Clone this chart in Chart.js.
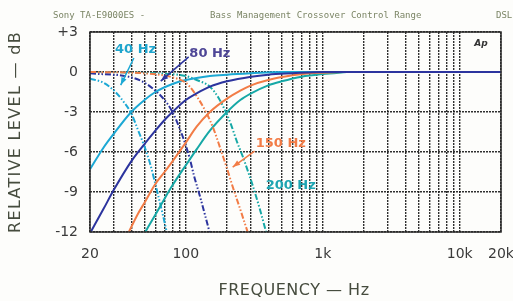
<!DOCTYPE html>
<html>
<head>
<meta charset="utf-8">
<script src="https://cdn.jsdelivr.net/npm/chart.js@4.4.1/dist/chart.umd.min.js"></script>
<style>
  html, body { margin: 0; padding: 0; background: #fdfdfb; }
</style>
</head>
<body>
<canvas id="crossover" width="513" height="301"></canvas>
<script>
// grid and tick values
const gridFreqs = [20, 30, 40, 50, 60, 70, 80, 90, 100, 200, 300, 400, 500, 600, 700, 800, 900,
  1000, 2000, 3000, 4000, 5000, 6000, 7000, 8000, 9000, 10000, 20000];
const freqLabels = { 20: "20", 100: "100", 1000: "1k", 10000: "10k", 20000: "20k" };
const levelTicks = [3, 0, -3, -6, -9, -12];

// 40 Hz
const hp40F = [20, 25, 30, 40, 50, 60, 80, 100, 150, 200, 300, 500, 1000];
const hp40L = [-7.3, -5.7, -4.6, -3.0, -2.1, -1.5, -0.9, -0.6, -0.3, -0.2, -0.1, 0, 0];
const lp40F = [20, 25, 30, 35, 40, 45, 50, 55, 62, 68, 73];
const lp40L = [-0.5, -0.8, -1.4, -2.2, -3.1, -4.4, -5.6, -6.9, -9.0, -10.7, -12.1];

// 80 Hz
const hp80F = [20, 25, 30, 40, 50, 60, 70, 80, 100, 120, 150, 200, 300, 400, 600, 1000, 2000, 20000];
const hp80L = [-12.1, -10.3, -8.8, -6.7, -5.4, -4.4, -3.6, -3.0, -2.1, -1.6, -1.1, -0.7, -0.35, -0.2, -0.1, 0, 0, 0];
const lp80F = [20, 40, 50, 60, 70, 80, 90, 100, 107, 115, 126, 138, 150];
const lp80L = [-0.1, -0.4, -0.8, -1.4, -2.1, -3.0, -4.2, -5.5, -6.5, -7.8, -9.2, -10.7, -12.1];

// 150 Hz
const hp150F = [38, 45, 50, 60, 70, 80, 100, 120, 150, 200, 250, 300, 400, 600, 800, 1000, 1400];
const hp150L = [-12.1, -10.6, -9.8, -8.4, -7.5, -6.7, -5.3, -4.1, -3.0, -2.0, -1.4, -1.0, -0.6, -0.25, -0.1, -0.05, 0];
const lp150F = [20, 50, 80, 100, 107, 120, 142, 160, 177, 198, 220, 248, 285];
const lp150L = [0, -0.1, -0.4, -0.8, -1.1, -1.8, -3.1, -4.3, -5.6, -7.1, -8.6, -10.2, -12.1];

// 200 Hz
const hp200F = [50, 60, 70, 80, 100, 120, 150, 200, 250, 300, 400, 500, 700, 1000, 1500];
const hp200L = [-12.1, -10.7, -9.5, -8.5, -7.0, -5.8, -4.4, -3.0, -2.1, -1.6, -1.0, -0.7, -0.35, -0.15, 0];
const lp200F = [20, 60, 100, 120, 150, 175, 198, 215, 234, 262, 290, 310, 350, 388];
const lp200L = [0, -0.1, -0.3, -0.6, -1.1, -2.0, -3.1, -4.0, -5.1, -6.4, -7.7, -8.6, -10.4, -12.1];

const cCyan = "rgb(28,168,212)";
const cBlue = "rgb(44,52,158)";
const cOrange = "rgb(242,124,70)";
const cTeal = "rgb(22,168,166)";
const dashDot = [6, 2, 1.5, 2, 1.5, 2];

function pts(f, l) {
  return f.map((v, i) => ({ x: v, y: l[i] }));
}

function curve(f, l, color, dashed, order) {
  return {
    data: pts(f, l),
    borderColor: color,
    borderWidth: 2,
    borderDash: dashed ? dashDot : [],
    pointRadius: 0,
    cubicInterpolationMode: "monotone",
    fill: false,
    order: order
  };
}

// labels and arrows, in chart units (Hz, dB)
const notes = [
  { text: "40 Hz", f: 43, db: 1.65, color: "rgb(30,165,205)" },
  { text: "80 Hz", f: 150, db: 1.35, color: "rgb(78,70,150)" },
  { text: "150 Hz", f: 494, db: -5.35, color: cOrange },
  { text: "200 Hz", f: 584, db: -8.5, color: "rgb(30,165,178)" }
];
const arrows = [
  { f1: 41.8, db1: 1.05, f2: 33.5, db2: -0.98, color: cCyan },
  { f1: 105, db1: 1.13, f2: 65.7, db2: -0.68, color: cBlue },
  { f1: 318, db1: -5.93, f2: 220, db2: -7.13, color: cOrange }
];

function arrow(ctx, x1, y1, x2, y2, color) {
  const a = Math.atan2(y2 - y1, x2 - x1);
  ctx.strokeStyle = color;
  ctx.fillStyle = color;
  ctx.lineWidth = 1.5;
  ctx.beginPath();
  ctx.moveTo(x1, y1);
  ctx.lineTo(x2, y2);
  ctx.stroke();
  ctx.beginPath();
  ctx.moveTo(x2, y2);
  ctx.lineTo(x2 - 8 * Math.cos(a - 0.35), y2 - 8 * Math.sin(a - 0.35));
  ctx.lineTo(x2 - 8 * Math.cos(a + 0.35), y2 - 8 * Math.sin(a + 0.35));
  ctx.closePath();
  ctx.fill();
}

const decor = {
  id: "decor",
  beforeDraw(chart) {
    const ctx = chart.ctx;
    ctx.save();
    ctx.fillStyle = "#fdfdfb";
    ctx.fillRect(0, 0, chart.width, chart.height);
    ctx.restore();
  },
  afterDatasetsDraw(chart) {
    const { ctx, chartArea: a, scales: { x, y } } = chart;
    ctx.save();
    ctx.strokeStyle = "#2a2a2a";
    ctx.lineWidth = 1.5;
    ctx.strokeRect(a.left, a.top, a.right - a.left, a.bottom - a.top);

    arrows.forEach(r => arrow(ctx, x.getPixelForValue(r.f1), y.getPixelForValue(r.db1),
      x.getPixelForValue(r.f2), y.getPixelForValue(r.db2), r.color));

    ctx.font = "bold 13px 'DejaVu Sans'";
    ctx.textAlign = "center";
    ctx.textBaseline = "middle";
    notes.forEach(n => {
      ctx.fillStyle = n.color;
      ctx.fillText(n.text, x.getPixelForValue(n.f), y.getPixelForValue(n.db));
    });

    ctx.fillStyle = "#333";
    ctx.font = "italic bold 9px 'DejaVu Sans'";
    ctx.fillText("Ap", a.right - 20, a.top + 12);
    ctx.restore();
  },
  afterDraw(chart) {
    const { ctx, chartArea: a } = chart;
    ctx.save();
    ctx.fillStyle = "rgb(122,132,100)";
    ctx.font = "9px 'DejaVu Sans Mono'";
    ctx.textBaseline = "middle";
    ctx.textAlign = "left";
    ctx.fillText("Sony TA-E9000ES -", 53, 16);
    ctx.fillText("Bass Management Crossover Control Range", 210, 16);
    ctx.fillText("DSL", 496, 16);

    ctx.fillStyle = "rgb(70,76,62)";
    ctx.font = "16px 'DejaVu Sans'";
    ctx.textAlign = "center";
    ctx.letterSpacing = "0.5px";
    ctx.fillText("FREQUENCY \u2014 Hz", 294, 291);
    ctx.translate(16, (a.top + a.bottom) / 2);
    ctx.rotate(-Math.PI / 2);
    ctx.letterSpacing = "1.3px";
    ctx.fillText("RELATIVE LEVEL \u2014 dB", 0, 0);
    ctx.restore();
  }
};

new Chart(document.getElementById("crossover"), {
  type: "line",
  data: {
    datasets: [
      curve(hp80F, hp80L, cBlue, false, 0),
      curve(hp150F, hp150L, cOrange, false, 1),
      curve(lp150F, lp150L, cOrange, true, 2),
      curve(hp40F, hp40L, cCyan, false, 3),
      curve(hp200F, hp200L, cTeal, false, 4),
      curve(lp80F, lp80L, cBlue, true, 5),
      curve(lp40F, lp40L, cCyan, true, 6),
      curve(lp200F, lp200L, cTeal, true, 7)
    ]
  },
  options: {
    responsive: false,
    animation: false,
    layout: { padding: { left: 0, right: 12, top: 32, bottom: 0 } },
    plugins: { legend: { display: false }, tooltip: { enabled: false } },
    scales: {
      x: {
        type: "logarithmic",
        min: 20,
        max: 20000,
        afterBuildTicks: s => { s.ticks = gridFreqs.map(v => ({ value: v })); },
        afterFit: s => { s.height = 69; s.paddingLeft = 0; s.paddingRight = 0; },
        grid: { color: "rgba(25,25,25,0.9)", lineWidth: 1.4, drawTicks: false },
        border: { display: false, dash: [2, 1] },
        ticks: {
          autoSkip: false,
          maxRotation: 0,
          padding: 14,
          color: "#3a3a3a",
          font: { family: "DejaVu Sans", size: 14 },
          callback: v => freqLabels[v] || ""
        }
      },
      y: {
        min: -12,
        max: 3,
        afterBuildTicks: s => { s.ticks = levelTicks.map(v => ({ value: v })); },
        afterFit: s => { s.width = 90; s.paddingTop = 0; s.paddingBottom = 0; },
        grid: { color: "rgba(25,25,25,0.9)", lineWidth: 1.4, drawTicks: false },
        border: { display: false, dash: [2, 1] },
        ticks: {
          padding: 12,
          color: "#3a3a3a",
          font: { family: "DejaVu Sans", size: 14 },
          callback: v => (v > 0 ? "+" + v : String(v))
        }
      }
    }
  },
  plugins: [decor]
});
</script>
</body>
</html>
